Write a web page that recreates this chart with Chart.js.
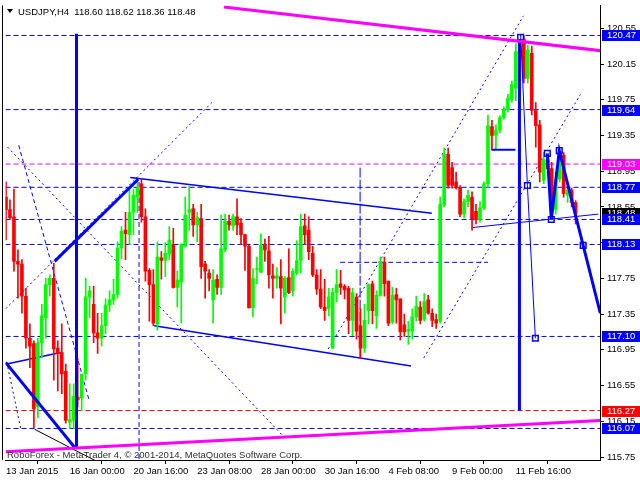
<!DOCTYPE html>
<html>
<head>
<meta charset="utf-8">
<script src="https://cdn.jsdelivr.net/npm/chart.js@4.4.1/dist/chart.umd.min.js"></script>
<style>
  html, body { margin: 0; padding: 0; background: #fff; }
  #wrap { width: 640px; height: 480px; }
</style>
</head>
<body>
<div id="wrap"><canvas id="c" width="640" height="480"></canvas></div>
<script>
// ============================================================================
// USDJPY H4 — velas + objetos de análisis (niveles, tendencias, ondas)
// ============================================================================

// --- Velas (una por barra H4, de izquierda a derecha) -------------------------
const opens = [
  118.66, 118.52, 118.44, 117.94, 117.91, 117.55, 117.08, 117.02, 116.31, 117.03,
  117.31, 117.68, 117.75, 116.97, 116.92, 116.71, 116.14, 116.16, 116.42, 116.41,
  116.68, 117.54, 117.46, 117.14, 117.08, 117.22, 117.45, 117.51, 117.57, 118.09,
  118.29, 118.24, 118.49, 118.66, 118.81, 118.44, 117.84, 117.68, 117.24, 117.98,
  117.95, 118.02, 118.13, 117.65, 117.71, 118.11, 118.49, 118.53, 118.35, 118.42,
  117.91, 117.81, 117.51, 117.74, 117.65, 118.07, 118.39, 118.34, 118.44, 118.37,
  118.24, 118.11, 117.42, 117.85, 117.82, 118.13, 118.06, 117.78, 117.75, 117.77,
  117.54, 117.76, 117.61, 117.81, 117.95, 118.34, 118.29, 118.03, 117.79, 117.63,
  117.43, 117.41, 116.97, 117.59, 117.69, 117.66, 117.64, 117.28, 117.54, 117.22,
  116.97, 117.39, 117.69, 117.33, 117.56, 117.93, 117.72, 117.26, 117.57, 117.52,
  117.23, 117.16, 117.16, 117.32, 117.43, 117.29, 117.51, 117.36, 117.29, 117.27,
  118.57, 119.14, 118.99, 118.83, 118.77, 118.47, 118.61, 118.66, 118.50, 118.41,
  118.54, 118.81, 119.45, 119.35, 119.41, 119.55, 119.64, 119.75, 119.88, 120.29,
  120.43, 119.99, 120.27, 119.63, 119.47, 118.85, 119.08, 118.98, 118.52, 118.86,
  119.13, 118.68, 118.74, 118.60
];
const highs = [
  118.83, 118.63, 118.75, 118.07, 117.96, 117.64, 117.24, 117.05, 117.08, 117.46,
  117.75, 117.79, 117.92, 117.05, 117.24, 116.79, 116.57, 116.57, 116.85, 116.68,
  117.75, 117.66, 117.66, 117.36, 117.36, 117.52, 117.61, 117.74, 118.16, 118.33,
  118.49, 118.75, 118.75, 118.86, 118.86, 118.53, 117.86, 117.85, 118.16, 118.05,
  118.15, 118.33, 118.31, 117.83, 118.14, 118.66, 118.79, 118.58, 118.49, 118.58,
  117.94, 117.85, 117.85, 117.79, 118.46, 118.47, 118.46, 118.47, 118.64, 118.42,
  118.24, 118.12, 117.86, 117.99, 118.25, 118.19, 118.22, 117.91, 117.87, 117.96,
  117.77, 118.08, 117.86, 118.17, 118.47, 118.47, 118.44, 118.11, 117.85, 117.85,
  117.74, 117.64, 117.64, 117.85, 117.84, 117.68, 117.66, 117.64, 117.58, 117.41,
  117.46, 117.69, 117.72, 117.61, 117.99, 117.99, 117.72, 117.65, 117.64, 117.52,
  117.35, 117.27, 117.41, 117.55, 117.49, 117.58, 117.56, 117.41, 117.35, 118.66,
  119.21, 119.21, 119.05, 118.94, 118.79, 118.64, 118.74, 118.72, 118.58, 118.61,
  118.83, 119.58, 119.52, 119.47, 119.57, 119.67, 119.81, 119.96, 120.38, 120.46,
  120.47, 120.36, 120.35, 119.72, 119.52, 119.16, 119.15, 119.05, 118.94, 119.19,
  119.16, 118.80, 118.76, 118.62
];
const lows = [
  118.18, 118.41, 117.83, 117.53, 117.36, 116.97, 116.75, 116.08, 116.19, 116.86,
  117.08, 117.55, 116.61, 116.49, 116.46, 116.13, 116.07, 116.07, 116.31, 116.27,
  116.61, 117.31, 117.03, 116.91, 116.99, 117.13, 117.38, 117.46, 117.53, 117.97,
  117.96, 118.13, 118.24, 118.49, 118.38, 117.72, 117.27, 117.22, 117.17, 117.74,
  117.77, 117.96, 117.64, 117.43, 117.25, 118.10, 118.29, 118.22, 118.16, 117.75,
  117.53, 117.61, 117.25, 117.57, 117.57, 118.05, 118.29, 118.29, 118.24, 118.13,
  117.84, 117.42, 117.32, 117.69, 117.81, 117.94, 117.64, 117.53, 117.64, 117.24,
  117.36, 117.58, 117.55, 117.79, 117.81, 118.13, 117.96, 117.77, 117.57, 117.41,
  117.28, 117.33, 116.97, 117.49, 117.57, 117.52, 117.13, 117.11, 117.07, 116.85,
  116.92, 117.24, 117.24, 117.19, 117.55, 117.55, 117.22, 117.24, 117.25, 117.06,
  117.10, 117.01, 117.07, 117.27, 117.24, 117.27, 117.35, 117.21, 117.19, 117.25,
  118.55, 118.76, 118.76, 118.75, 118.44, 118.43, 118.55, 118.29, 118.36, 118.38,
  118.52, 118.77, 119.19, 119.19, 119.38, 119.53, 119.61, 119.72, 119.74, 120.27,
  119.94, 119.94, 119.58, 119.22, 118.83, 118.81, 118.92, 118.41, 118.47, 118.83,
  118.66, 118.60, 118.55, 118.36
];
const closes = [
  118.52, 118.43, 117.94, 117.91, 117.55, 117.08, 116.99, 116.29, 117.03, 117.33,
  117.68, 117.75, 116.96, 116.91, 116.68, 116.16, 116.17, 116.43, 116.39, 116.68,
  117.54, 117.61, 117.14, 117.08, 117.22, 117.45, 117.51, 117.57, 118.09, 118.28,
  118.25, 118.49, 118.68, 118.76, 118.44, 117.83, 117.68, 117.25, 117.99, 117.95,
  118.03, 118.18, 117.65, 117.73, 118.13, 118.46, 118.52, 118.35, 118.43, 117.88,
  117.83, 117.75, 117.73, 117.65, 118.08, 118.39, 118.35, 118.44, 118.35, 118.24,
  118.11, 117.42, 117.75, 117.85, 118.12, 118.07, 117.79, 117.75, 117.78, 117.64,
  117.75, 117.59, 117.83, 117.95, 118.33, 118.24, 118.05, 117.79, 117.63, 117.43,
  117.39, 117.54, 117.59, 117.68, 117.65, 117.62, 117.28, 117.59, 117.16, 116.97,
  117.28, 117.68, 117.39, 117.56, 117.94, 117.69, 117.25, 117.56, 117.51, 117.15,
  117.15, 117.18, 117.32, 117.44, 117.28, 117.49, 117.36, 117.28, 117.25, 118.58,
  119.14, 118.79, 118.79, 118.77, 118.47, 118.61, 118.68, 118.42, 118.41, 118.54,
  118.81, 119.46, 119.35, 119.41, 119.55, 119.65, 119.77, 119.92, 120.29, 120.41,
  119.99, 120.31, 119.63, 119.46, 118.94, 119.08, 118.98, 118.49, 118.86, 119.14,
  118.70, 118.74, 118.60, 118.48
];

// --- Ejes ---------------------------------------------------------------------
const xTickBars = [0, 16, 32, 48, 64, 80, 96, 112, 128];
const xTickLabels = ['13 Jan 2015', '16 Jan 00:00', '20 Jan 16:00', '23 Jan 08:00',
  '28 Jan 00:00', '30 Jan 16:00', '4 Feb 08:00', '9 Feb 00:00', '11 Feb 16:00'];
const yTickValues = [115.75, 116.15, 116.55, 116.95, 117.35, 117.75, 118.15,
  118.55, 118.95, 119.35, 119.75, 120.15, 120.55];

// --- Niveles horizontales ----------------------------------------------------
const blueLevels = [120.47, 119.64, 118.77, 118.41, 118.13, 117.10, 116.07];
const magentaLevels = [119.03];
const redLevels = [116.27];
const partialLevel = [[83.9, 117.93], [121.0, 117.93]];

// --- Objetos dibujados (barra, precio) ----------------------------------------
const magentaTop = [[54.7, 120.79], [149.2, 120.30]];
const magentaBottom = [[-0.1, 115.81], [149.2, 116.16]];
const thickDown = [[-0.1, 116.81], [17.2, 115.86]];
const thickVertLeft = [[17.7, 120.49], [17.7, 115.86]];
const thickUp = [[12.2, 117.94], [33.2, 118.86]];
const dotUp = [[-0.1, 117.41], [51.7, 119.72]];
const channelTop = [[31.2, 118.88], [106.9, 118.48]];
const channelBottom = [[37.2, 117.22], [101.7, 116.77]];
const leftShort = [[-0.1, 116.79], [13.7, 116.92]];
const blackLine = [[7.2, 116.06], [22.4, 115.71]];
const dotA = [[0.4, 119.22], [69.9, 115.97]];
const dashB = [[3.2, 119.24], [20.9, 116.38]];
const dotD = [[0.2, 116.81], [3.7, 116.07]];
const vDash1 = [[33.4, 118.83], [33.4, 115.70]];
const vDash2 = [[88.9, 118.99], [88.9, 116.86]];
const dotG = [[80.9, 116.96], [129.9, 120.69]];
const dotH = [[104.9, 116.86], [144.2, 119.81]];
const shelf = [[121.9, 119.19], [127.9, 119.19]];
const neckLine = [[117.2, 118.32], [148.7, 118.47]];
const thinZig = [[129.2, 120.48], [130.9, 118.79], [132.9, 117.08]];
const thickVertRight = [[128.9, 120.43], [128.9, 116.27]];
const thickZig = [[135.9, 119.15], [136.9, 118.41], [138.9, 119.18], [144.9, 118.12], [149.2, 117.36]];
const wavePoints = [[129.2, 120.45], [130.9, 118.79], [132.9, 117.08], [135.9, 119.15],
  [136.9, 118.41], [138.9, 119.18], [144.9, 118.12]];

// --- Constantes de dibujo ---------------------------------------------------------
const X_MIN = -0.125, X_MAX = 149.125;
const Y_MIN = 115.7167, Y_MAX = 120.8056;
const AZUL = '#0000FF', MAGENTA = '#FF00FF', ROJO = '#FF0000', VERDE = '#00FF00';
const FUENTE = "'Liberation Sans', Arial, sans-serif";

const colorVela = (i) => (closes[i] >= opens[i] ? VERDE : ROJO);
const pts = (arr) => arr.map(([x, y]) => ({ x, y }));

function linea(arr, color, ancho, dash, orden) {
  return {
    type: 'line', data: pts(arr), borderColor: color, borderWidth: ancho,
    borderDash: dash || [], pointRadius: 0, fill: false, tension: 0, order: orden ?? 5,
  };
}
function nivel(precio, color, dash) {
  return linea([[X_MIN, precio], [X_MAX, precio]], color, 1, dash, 6);
}

const DASH = [5, 3];
const DOT = [2, 3];

const datasets = [
  // velas: mecha + cuerpo
  {
    type: 'bar', order: 2, grouped: false, barThickness: 1,
    data: lows.map((l, i) => ({ x: i, y: [l, highs[i]] })),
    backgroundColor: lows.map((_, i) => colorVela(i)), borderWidth: 0,
  },
  {
    type: 'bar', order: 1, grouped: false, barThickness: 3, minBarLength: 1,
    data: opens.map((o, i) => ({ x: i, y: [o, closes[i]] })),
    backgroundColor: opens.map((_, i) => colorVela(i)), borderWidth: 0,
  },
  ...blueLevels.map((p) => nivel(p, AZUL, DASH)),
  ...magentaLevels.map((p) => nivel(p, MAGENTA, DASH)),
  ...redLevels.map((p) => nivel(p, '#E00000', DASH)),
  linea(partialLevel, AZUL, 1, DASH, 6),
  linea(magentaTop, MAGENTA, 3, null, 0),
  linea(magentaBottom, MAGENTA, 3, null, 0),
  linea(thickDown, AZUL, 3, null, 0),
  linea(thickVertLeft, AZUL, 3, null, 0),
  linea(thickUp, AZUL, 3, null, 0),
  linea(dotUp, AZUL, 1, DOT),
  linea(channelTop, AZUL, 1.5, null, 3),
  linea(channelBottom, AZUL, 1.5, null, 3),
  linea(leftShort, AZUL, 1.5, null, 3),
  linea(blackLine, '#000000', 1, null, 3),
  linea(dotA, AZUL, 1, DOT),
  linea(dashB, AZUL, 1, [4, 3]),
  linea(dotD, AZUL, 1, DOT),
  linea(vDash1, AZUL, 1, DASH),
  linea(vDash2, AZUL, 1, [10, 2]),
  linea(dotG, AZUL, 1, DOT),
  linea(dotH, AZUL, 1, DOT),
  linea(shelf, AZUL, 2, null, 0),
  linea(neckLine, AZUL, 1, null, 0),
  linea(thinZig, AZUL, 1, null, 0),
  linea(thickVertRight, AZUL, 3, null, 0),
  linea(thickZig, AZUL, 3, null, 0),
  {
    type: 'line', data: pts(wavePoints), showLine: false, order: 0,
    pointStyle: 'rect', pointRadius: 4, pointBorderWidth: 1.5,
    pointBorderColor: AZUL, pointBackgroundColor: '#FFFFFF',
  },
];

// --- Etiquetas de precio del eje derecho, título y marco ---------------------------
const decoracion = {
  id: 'decoracion',
  afterDraw(chart) {
    const { ctx, chartArea: a, scales: { y } } = chart;
    ctx.save();

    // marco izquierdo
    ctx.strokeStyle = '#000';
    ctx.lineWidth = 1;
    ctx.beginPath();
    ctx.moveTo(2.5, a.top);
    ctx.lineTo(2.5, a.bottom);
    ctx.stroke();

    // etiquetas coloreadas sobre el eje
    ctx.font = '9.5px ' + FUENTE;
    ctx.textBaseline = 'middle';
    ctx.textAlign = 'left';
    const caja = (precio, fondo) => {
      const py = Math.round(y.getPixelForValue(precio));
      ctx.fillStyle = fondo;
      ctx.fillRect(a.right + 2, py - 5, 38, 11);
      ctx.fillStyle = '#FFFFFF';
      ctx.fillText(precio.toFixed(2), a.right + 7, py + 0.5);
    };
    caja(closes[closes.length - 1], '#000000');
    blueLevels.forEach((p) => caja(p, AZUL));
    magentaLevels.forEach((p) => caja(p, MAGENTA));
    redLevels.forEach((p) => caja(p, ROJO));

    // título
    ctx.fillStyle = '#000';
    ctx.beginPath();
    ctx.moveTo(7, 9);
    ctx.lineTo(13, 9);
    ctx.lineTo(10, 13);
    ctx.closePath();
    ctx.fill();
    ctx.textBaseline = 'alphabetic';
    const last = closes.length - 1;
    ctx.fillText('USDJPY,H4  ' + [opens[last], highs[last], lows[last], closes[last]]
      .map((v) => v.toFixed(2)).join(' '), 18, 15);

    // marca de agua
    ctx.fillStyle = '#303030';
    ctx.fillText('RoboForex - MetaTrader 4, \u00A9 2001-2014, MetaQuotes Software Corp.', 7, 458);
    ctx.restore();
  },
};

new Chart(document.querySelector('#c'), {
  type: 'bar',
  data: { datasets },
  plugins: [decoracion],
  options: {
    responsive: false,
    animation: false,
    events: [],
    devicePixelRatio: 1,
    layout: { padding: { left: 3, top: 2, right: 0, bottom: 0 } },
    plugins: { legend: { display: false }, tooltip: { enabled: false } },
    scales: {
      x: {
        type: 'linear', min: X_MIN, max: X_MAX, offset: false,
        afterBuildTicks: (s) => { s.ticks = xTickBars.map((v) => ({ value: v })); },
        afterFit: (s) => { s.height = 20; s.paddingLeft = 0; s.paddingRight = 0; },
        ticks: {
          autoSkip: false, maxRotation: 0, minRotation: 0, align: 'start', padding: 2,
          color: '#000', font: { family: FUENTE, size: 9.5 },
          callback: (v, i) => xTickLabels[i],
        },
        grid: { drawOnChartArea: false, drawTicks: true, tickLength: 4, color: '#000' },
        border: { display: true, color: '#000' },
      },
      y: {
        position: 'right', min: Y_MIN, max: Y_MAX,
        afterBuildTicks: (s) => { s.ticks = yTickValues.map((v) => ({ value: v })); },
        afterFit: (s) => { s.width = 40; s.paddingTop = 0; s.paddingBottom = 0; },
        ticks: {
          padding: 3, color: '#000', font: { family: FUENTE, size: 9.5 },
          callback: (v) => v.toFixed(2),
        },
        grid: { drawOnChartArea: false, drawTicks: true, tickLength: 4, color: '#000' },
        border: { display: true, color: '#000' },
      },
    },
  },
});
</script>
</body>
</html>
